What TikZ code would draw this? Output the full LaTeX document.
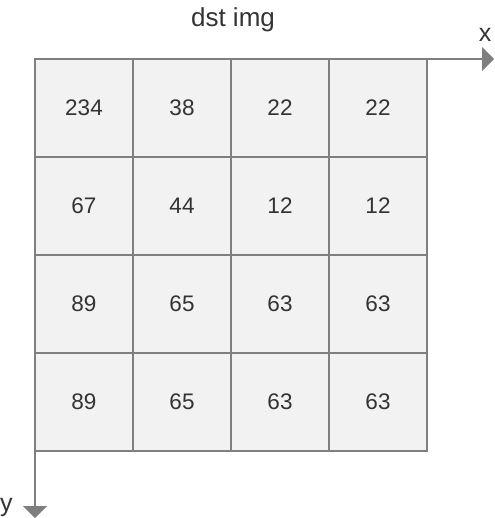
\documentclass[tikz,border=0pt]{standalone}
\usepackage{fontspec}
\setmainfont{Liberation Sans}
\usetikzlibrary{arrows.meta}
\definecolor{linegray}{HTML}{7F7F7F}
\definecolor{cellfill}{HTML}{F2F2F2}
\definecolor{txt}{HTML}{333333}
\begin{document}
\begin{tikzpicture}[x=1pt,y=-1pt,
  cell/.style={draw=linegray,line width=2pt,fill=cellfill,minimum size=98pt,inner sep=0pt,
    text=txt,font=\fontsize{22.5}{26}\selectfont},
  axis/.style={draw=linegray,line width=2pt,-{Triangle[length=12pt,width=24pt]}},
  lbl/.style={text=txt,inner sep=0pt,anchor=base}]
\useasboundingbox (0,0) rectangle (494,518);
\foreach \r/\vals in {1/{234,38,22,22},2/{67,44,12,12},3/{89,65,63,63},4/{89,65,63,63}}{
  \foreach \v [count=\c] in \vals {
    \node[cell] (c\r\c) at ({35+98*(\c-0.5)},{59+98*(\r-0.5)}) {\v};
  }
}
\coordinate (origin) at (35,59);
\coordinate (xend) at (494,59);
\coordinate (yend) at (35,518);
\draw[axis] (origin) -- (xend);
\draw[axis] (origin) -- (yend);
\node[lbl,font=\fontsize{26}{30}\selectfont] (title) at (233,27) {dst img};
\node[lbl,font=\fontsize{25}{30}\selectfont] (xl) at (485,42) {x};
\node[lbl,font=\fontsize{25}{30}\selectfont] (yl) at (6.5,511) {y};
\end{tikzpicture}
\end{document}
